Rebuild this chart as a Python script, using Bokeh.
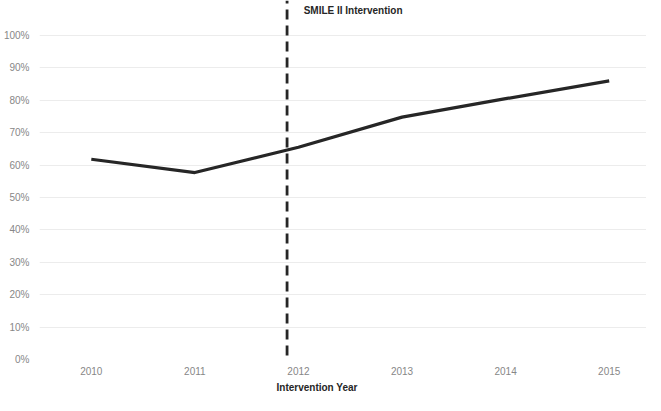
from bokeh.plotting import figure
from bokeh.models import Label, NumeralTickFormatter, FixedTicker, Range1d, Title
from bokeh.embed import file_html
from bokeh.resources import INLINE

years = [2010, 2011, 2012, 2013, 2014, 2015]
rates = [0.618, 0.577, 0.655, 0.748, 0.805, 0.860]
y_ticks = [0.0, 0.1, 0.2, 0.3, 0.4, 0.5, 0.6, 0.7, 0.8, 0.9, 1.0]
intervention_x = 2011.89
intervention_label = "SMILE II Intervention"
x_title = "Intervention  Year"

FONT = "Liberation Sans"

p = figure(frame_width=607, frame_height=359, output_backend="svg", toolbar_location=None,
           x_range=Range1d(2009.5, 2015.36), y_range=Range1d(0, 1.108),
           min_border_left=38, min_border_right=0, min_border_top=0, min_border_bottom=30)
p.outline_line_color = None
p.background_fill_color = "white"

p.xgrid.grid_line_color = None
p.ygrid.grid_line_color = "#ececec"
p.ygrid.grid_line_width = 1
p.yaxis.ticker = FixedTicker(ticks=y_ticks)
p.xaxis.ticker = FixedTicker(ticks=years)
p.yaxis.formatter = NumeralTickFormatter(format="0%")

for ax in (p.xaxis[0], p.yaxis[0]):
    ax.axis_line_color = None
    ax.major_tick_line_color = None
    ax.minor_tick_line_color = None
    ax.major_tick_out = 0
    ax.major_tick_in = 0
    ax.major_label_text_font = FONT
    ax.major_label_text_font_size = "10px"
    ax.major_label_text_color = "#878787"
p.yaxis.major_label_standoff = 10
p.xaxis.major_label_standoff = 7

p.line(years, rates, line_color="#262626", line_width=3.2)
p.line([intervention_x, intervention_x], [0.012, 1.108], line_color="#262626",
       line_width=2.8, line_dash="10 6")

p.add_layout(Label(x=2012.05, y=1.077, text=intervention_label, text_font=FONT,
                   text_font_size="10px", text_font_style="bold", text_color="#262626",
                   text_baseline="middle", text_align="left"))
p.add_layout(Title(text=x_title, text_font=FONT, text_font_size="10px",
                   text_font_style="bold", text_color="#262626", align="left",
                   offset=237, standoff=4), "below")

open("out.html", "w").write(file_html(p, INLINE))
